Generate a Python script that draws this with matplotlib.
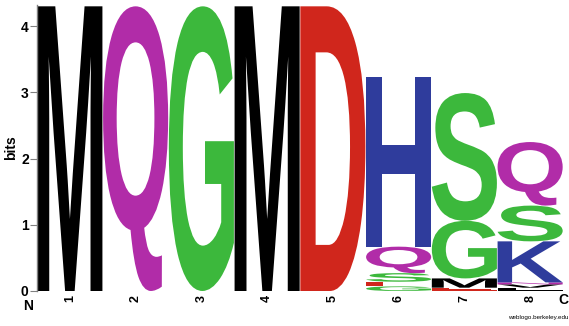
import matplotlib
matplotlib.use('Agg')
import matplotlib.pyplot as plt
from matplotlib.textpath import TextPath
from matplotlib.patches import PathPatch
from matplotlib.font_manager import FontProperties
from matplotlib.transforms import Affine2D

# letters of each position, bottom to top, with their heights in bits
positions = [1, 2, 3, 4, 5, 6, 7, 8]
stack_letters = [
    ['M'],
    ['Q'],
    ['G'],
    ['M'],
    ['D'],
    ['G', 'E', 'S', 'Q', 'H'],
    ['E', 'M', 'G', 'S'],
    ['L', 'V', 'N', 'K', 'S', 'Q'],
]
stack_bits = [
    [4.30],
    [4.30],
    [4.30],
    [4.30],
    [4.30],
    [0.07, 0.07, 0.13, 0.40, 2.56],
    [0.05, 0.14, 0.87, 1.93],
    [0.05, 0.05, 0.03, 0.62, 0.54, 0.96],
]

# chemistry colour scheme
colors = {}
for aa in 'GSTYC':
    colors[aa] = '#3cb83c'
for aa in 'NQ':
    colors[aa] = '#b12ca8'
for aa in 'KRH':
    colors[aa] = '#2f3c9c'
for aa in 'DE':
    colors[aa] = '#d0261c'
for aa in 'AVLIPWFM':
    colors[aa] = '#000000'

fp = FontProperties(family='Liberation Sans', weight='bold')


def draw_letter(ax, ch, x, y, w, h, color):
    tp = TextPath((0, 0), ch, size=1, prop=fp)
    bb = tp.get_extents()
    t = (Affine2D().translate(-bb.x0, -bb.y0)
         .scale(w / bb.width, h / bb.height)
         .translate(x - w / 2, y))
    ax.add_patch(PathPatch(t.transform_path(tp), fc=color, ec='none', lw=0))


fig = plt.figure(figsize=(5.69, 3.26), dpi=100)
ax = fig.add_axes([37 / 569, 35 / 326, 526 / 569, 286 / 326])

for pos, letters, bits in zip(positions, stack_letters, stack_bits):
    y = 0
    for ch, h in zip(letters, bits):
        draw_letter(ax, ch, pos, y, 0.99, h, colors[ch])
        y += h

ax.set_xlim(0.5, 8.5)
ax.set_ylim(0, 4.32)
for s in ['top', 'right', 'bottom']:
    ax.spines[s].set_visible(False)
ax.spines['left'].set_color('#808080')
ax.spines['left'].set_linewidth(1)

ax.set_yticks([0, 1, 2, 3, 4])
ax.set_yticklabels(['0', '1', '2', '3', '4'], fontweight='bold', fontsize=10,
                   family='Liberation Sans')
ax.tick_params(axis='y', length=5, width=0.8, color='#808080', pad=1)
ax.set_ylabel('bits', fontweight='bold', fontsize=10, family='Liberation Sans',
              labelpad=2)

ax.set_xticks(positions)
ax.set_xticklabels([str(p) for p in positions], rotation=90, fontsize=9,
                   fontweight='bold', family='Liberation Sans')
ax.tick_params(axis='x', length=0, pad=3)

fig.text(28 / 569, 1 - 306 / 326, 'N', ha='center', va='center', fontsize=10,
         fontweight='bold', family='Liberation Sans')
fig.text(568 / 569, 1 - 300 / 326, 'C', ha='right', va='center', fontsize=10,
         fontweight='bold', family='Liberation Sans')
fig.text(568 / 569, 1 - 318 / 326, 'weblogo.berkeley.edu', ha='right', va='center',
         fontsize=4.5, family='Liberation Sans')

fig.savefig('out.png', dpi=100)
